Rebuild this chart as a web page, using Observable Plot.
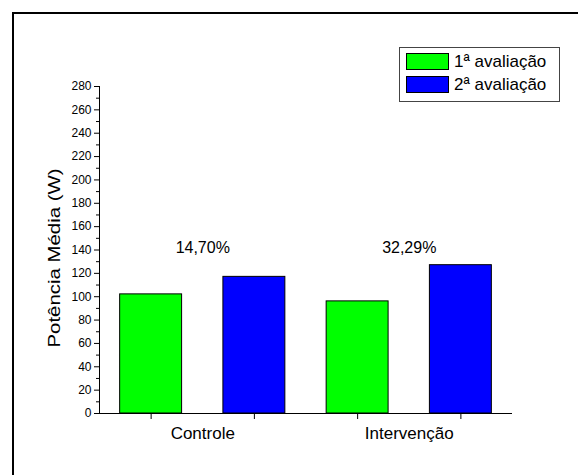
<!DOCTYPE html>
<html>
<head>
<meta charset="utf-8">
<script src="https://cdn.jsdelivr.net/npm/d3@7"></script>
<script src="https://cdn.jsdelivr.net/npm/@observablehq/plot@0.6"></script>
<style>
  html, body { margin: 0; padding: 0; background: #fff; }
  #page {
    position: relative; width: 578px; height: 475px; overflow: hidden;
    background: #fff; font-family: "Liberation Sans", Arial, sans-serif;
  }
  #frame {
    position: absolute; left: 12px; top: 12px; right: -10px; bottom: -10px;
    border: 2px solid #000; pointer-events: none;
  }
  #chart { position: absolute; left: 0; top: 0; }
  #legend {
    position: absolute; left: 399px; top: 47px; width: 159px; height: 53px;
    border: 1px solid #444; background: #fff;
  }
  .row { position: absolute; left: 6px; display: flex; align-items: center; }
  .swatch { width: 41px; height: 15px; border: 1px solid #000; margin-right: 5px; }
  .row span { font-size: 17px; color: #000; line-height: 17px; }
</style>
</head>
<body>
<div id="page">
  <div id="chart"></div>
  <div id="frame"></div>
  <div id="legend"></div>
</div>
<script>
// Average power per group, before and after
const groups = ["Controle", "Intervenção"];
const series = ["1ª avaliação", "2ª avaliação"];
const avaliacao1 = [102, 96];
const avaliacao2 = [117, 127];
const gains = ["14,70%", "32,29%"];
const seriesColors = ["#00ff00", "#0000ff"];
const yMajorTicks = [0, 20, 40, 60, 80, 100, 120, 140, 160, 180, 200, 220, 240, 260, 280];
const yMinorTicks = [10, 30, 50, 70, 90, 110, 130, 150, 170, 190, 210, 230, 250, 270];
const yTitle = "Potência Média (W)";

// one slot per bar, two slots per group
const bars = [];
groups.forEach((g, gi) => {
  [avaliacao1, avaliacao2].forEach((vals, si) => {
    bars.push({group: g, series: series[si], slot: gi * 2 + si + 1, value: vals[gi]});
  });
});
const groupInfo = groups.map((g, gi) => ({
  group: g,
  center: d3.mean(bars.filter(b => b.group === g), b => b.slot),
  gain: gains[gi]
}));
const half = 0.3;

const chart = Plot.plot({
  width: 578,
  height: 475,
  marginTop: 86,
  marginBottom: 62,
  marginLeft: 99,
  marginRight: 66,
  style: {fontFamily: '"Liberation Sans", Arial, sans-serif', fontSize: "12px", color: "#000", background: "transparent"},
  x: {domain: [0.5, 4.5], axis: null},
  y: {domain: [0, 280], axis: null},
  color: {domain: series, range: seriesColors},
  marks: [
    Plot.rectY(bars, {
      x1: d => d.slot - half, x2: d => d.slot + half,
      y1: 0, y2: "value",
      fill: "series", stroke: "#000", strokeWidth: 1
    }),
    Plot.axisY({ticks: yMajorTicks, tickSize: 5, tickPadding: 3, label: null, stroke: "#000"}),
    Plot.axisY({ticks: yMinorTicks, tickSize: 3, tickFormat: () => "", label: null, stroke: "#000"}),
    Plot.axisX({ticks: bars.map(b => b.slot), tickSize: 6, tickFormat: () => "", label: null, stroke: "#000"}),
    Plot.ruleX([0.5], {stroke: "#000"}),
    Plot.ruleY([0], {stroke: "#000"}),
    Plot.text(groupInfo, {x: "center", text: "group", frameAnchor: "bottom", dy: 25, fontSize: 17, fill: "#000"}),
    Plot.text(groupInfo, {x: "center", y: 142, text: "gain", fontSize: 16, fill: "#000"}),
    Plot.text([yTitle], {frameAnchor: "left", textAnchor: "middle", rotate: -90, dx: -45, dy: 8, fontSize: 17, fill: "#000", className: "ytitle"})
  ]
});
// the axis title is drawn slightly elongated along its reading direction
d3.select(chart).selectAll("g.ytitle text").attr("transform", function () {
  return (this.getAttribute("transform") || "") + " scale(1.2,1)";
});
document.getElementById("chart").appendChild(chart);

// legend box
const legend = document.getElementById("legend");
series.forEach((s, i) => {
  const row = document.createElement("div");
  row.className = "row";
  row.style.top = (5 + i * 23) + "px";
  const sw = document.createElement("div");
  sw.className = "swatch";
  sw.style.background = seriesColors[i];
  const label = document.createElement("span");
  label.textContent = s;
  row.appendChild(sw);
  row.appendChild(label);
  legend.appendChild(row);
});
</script>
</body>
</html>
